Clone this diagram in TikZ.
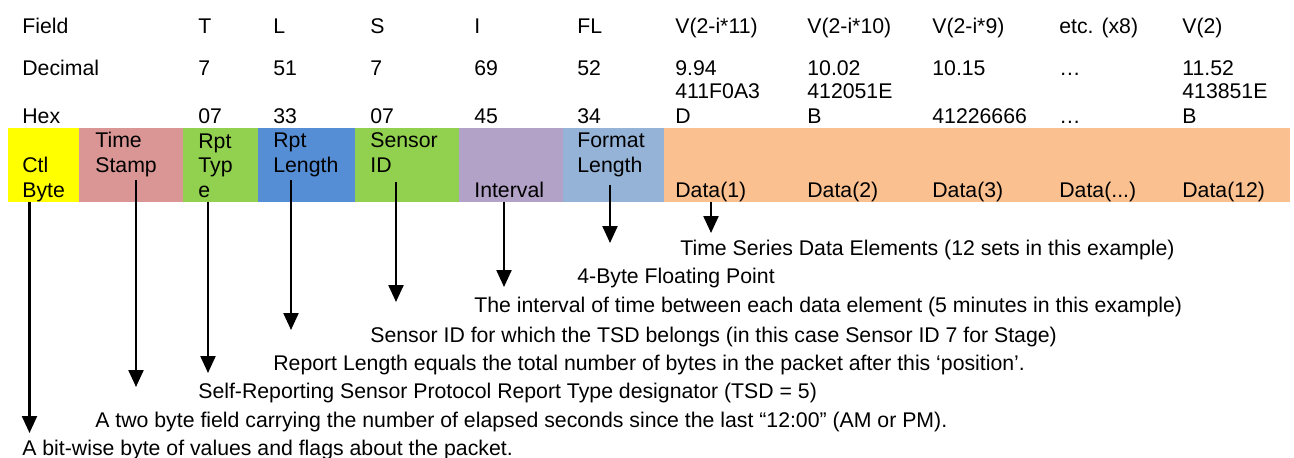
\documentclass[tikz,border=0pt]{standalone}
\usepackage{fontspec}
\setmainfont{Liberation Sans}
\usetikzlibrary{positioning}
\usetikzlibrary{arrows.meta}
\usetikzlibrary{calc}

\definecolor{ctlyellow}{HTML}{FFFF00}
\definecolor{stampred}{HTML}{D99694}
\definecolor{typegreen}{HTML}{92D050}
\definecolor{lenblue}{HTML}{558ED5}
\definecolor{intpurple}{HTML}{B3A2C7}
\definecolor{fmtblue}{HTML}{95B3D7}
\definecolor{dataorange}{HTML}{FAC090}

\begin{document}
\begin{tikzpicture}[
    x=0.02cm, y=-0.02cm,
    txt/.style={anchor=base west, inner sep=0pt, align=left, font=\fontsize{12.1}{13.9}\selectfont},
    cell/.style={anchor=north west, inner sep=0pt, outer sep=0pt, minimum height=1.48cm},
    pointer/.style={-{Triangle[width=0.3cm,length=0.34cm]}, line width=1.3pt},
]
    \useasboundingbox (0,0) rectangle (1294,457);

    % header rows
    \node[txt] (hField) at (22,33) {Field};
    \node[txt] (hDec) at (22,75) {Decimal};
    \node[txt] (hHex) at (22,123) {Hex};

    \node[txt] (fT) at (198,33) {T};
    \node[txt] (fL) at (273,33) {L};
    \node[txt] (fS) at (370,33) {S};
    \node[txt] (fI) at (474,33) {I};
    \node[txt] (fFL) at (577,33) {FL};
    \node[txt] (fV1) at (675,33) {V(2-i*11)};
    \node[txt] (fV2) at (807,33) {V(2-i*10)};
    \node[txt] (fV3) at (932,33) {V(2-i*9)};
    \node[txt] (fVx) at (1059,33) {etc. (x8)};
    \node[txt] (fV12) at (1182,33) {V(2)};

    \node[txt] (dT) at (198,75) {7};
    \node[txt] (dL) at (273,75) {51};
    \node[txt] (dS) at (370,75) {7};
    \node[txt] (dI) at (474,75) {69};
    \node[txt] (dFL) at (577,75) {52};
    \node[txt] (dV1) at (675,75) {9.94};
    \node[txt] (dV2) at (807,75) {10.02};
    \node[txt] (dV3) at (932,75) {10.15};
    \node[txt] (dVx) at (1059,75) {…};
    \node[txt] (dV12) at (1182,75) {11.52};

    \node[txt] (xT) at (198,123) {07};
    \node[txt] (xL) at (273,123) {33};
    \node[txt] (xS) at (370,123) {07};
    \node[txt] (xI) at (474,123) {45};
    \node[txt] (xFL) at (577,123) {34};
    \node[txt] (xV1) at (675,123) {411F0A3\\D};
    \node[txt] (xV2) at (807,123) {412051E\\B};
    \node[txt] (xV3) at (932,123) {41226666};
    \node[txt] (xVx) at (1059,123) {…};
    \node[txt] (xV12) at (1182,123) {413851E\\B};

    % packet bar
    \node[cell, fill=ctlyellow, minimum width=1.43cm] (bCtl) at (7.6,128) {};
    \node[cell, fill=stampred, minimum width=2.08cm] (bStamp) [right=0cm of bCtl] {};
    \node[cell, fill=typegreen, minimum width=1.5cm] (bType) [right=0cm of bStamp] {};
    \node[cell, fill=lenblue, minimum width=1.94cm] (bLen) [right=0cm of bType] {};
    \node[cell, fill=typegreen, minimum width=2.08cm] (bSensor) [right=0cm of bLen] {};
    \node[cell, fill=intpurple, minimum width=2.08cm] (bInt) [right=0cm of bSensor] {};
    \node[cell, fill=fmtblue, minimum width=2.02cm] (bFmt) [right=0cm of bInt] {};
    \node[cell, fill=dataorange, minimum width=12.52cm] (bData) [right=0cm of bFmt] {};

    \node[txt] (lCtl) at (22,197) {Ctl\\Byte};
    \node[txt] (lStamp) at (95,172) {Time\\Stamp};
    \node[txt] (lType) at (198,197) {Rpt\\Typ\\e};
    \node[txt] (lLen) at (273,172) {Rpt\\Length};
    \node[txt] (lSensor) at (370,172) {Sensor\\ID};
    \node[txt] (lInt) at (474,197) {Interval};
    \node[txt] (lFmt) at (577,172) {Format\\Length};
    \node[txt] (lD1) at (675,197) {Data(1)};
    \node[txt] (lD2) at (807,197) {Data(2)};
    \node[txt] (lD3) at (932,197) {Data(3)};
    \node[txt] (lDx) at (1059,197) {Data(...)};
    \node[txt] (lD12) at (1182,197) {Data(12)};

    % descriptions
    \node[txt] (nData) at (680,255) {Time Series Data Elements (12 sets in this example)};
    \node[txt] (nFmt) at (577,283) {4-Byte Floating Point};
    \node[txt] (nInt) at (474,312) {The interval of time between each data element (5 minutes in this example)};
    \node[txt] (nSensor) at (370,342) {Sensor ID for which the TSD belongs (in this case Sensor ID 7 for Stage)};
    \node[txt] (nLen) at (273,370) {Report Length equals the total number of bytes in the packet after this ‘position’.};
    \node[txt] (nType) at (198,398) {Self-Reporting Sensor Protocol Report Type designator (TSD = 5)};
    \node[txt] (nStamp) at (95,427) {A two byte field carrying the number of elapsed seconds since the last “12:00” (AM or PM).};
    \node[txt] (nCtl) at (22,455) {A bit-wise byte of values and flags about the packet.};

    % arrow tips
    \coordinate (tCtl) at (29.5,433);
    \coordinate (tStamp) at (136,387);
    \coordinate (tType) at (208,373);
    \coordinate (tLen) at (291,330);
    \coordinate (tSensor) at (396,302);
    \coordinate (tInt) at (504,287);
    \coordinate (tFmt) at (610,243);
    \coordinate (tData) at (711,233);

    \draw[pointer] (bCtl.south -| tCtl) -- (tCtl);
    \draw[pointer] ($(bStamp.south -| tStamp)+(0,-22)$) -- (tStamp);
    \draw[pointer] (bType.south -| tType) -- (tType);
    \draw[pointer] ($(bLen.south -| tLen)+(0,-22)$) -- (tLen);
    \draw[pointer] ($(bSensor.south -| tSensor)+(0,-20)$) -- (tSensor);
    \draw[pointer] (bInt.south -| tInt) -- (tInt);
    \draw[pointer] ($(bFmt.south -| tFmt)+(0,-17)$) -- (tFmt);
    \draw[pointer] (bData.south -| tData) -- (tData);
\end{tikzpicture}
\end{document}
